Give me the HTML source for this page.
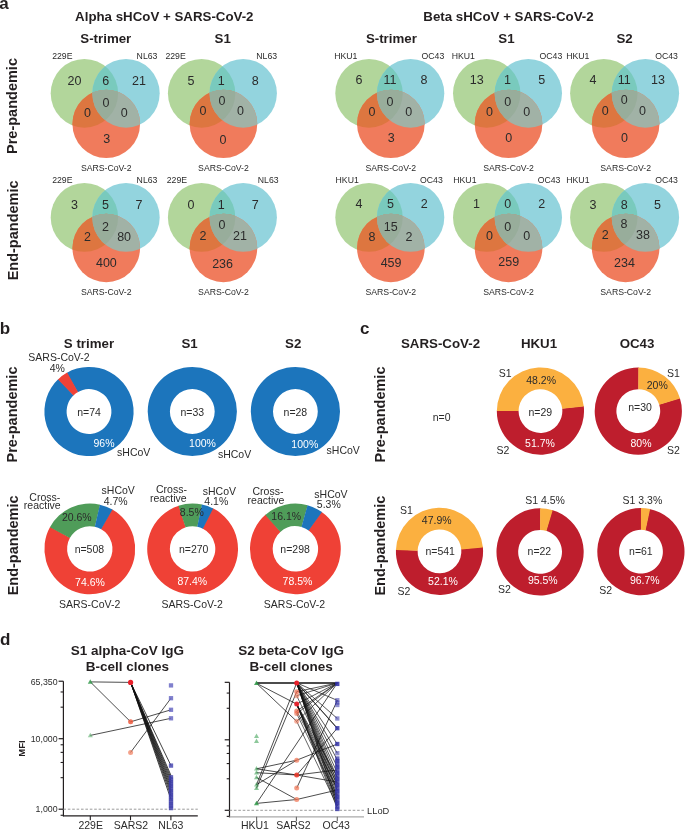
<!DOCTYPE html>
<html><head><meta charset="utf-8"><style>
html,body{margin:0;padding:0;background:#fff;overflow:hidden;}
svg{display:block;font-family:"Liberation Sans",sans-serif;will-change:transform;}
</style></head><body>
<svg width="685" height="831" viewBox="0 0 685 831">
<rect width="685" height="831" fill="#fff"/>
<clipPath id="cg0"><ellipse cx="84.40" cy="93.30" rx="33.7" ry="34.4" /></clipPath>
<clipPath id="cb0"><ellipse cx="126.00" cy="93.30" rx="33.7" ry="34.4" /></clipPath>
<ellipse cx="84.40" cy="93.30" rx="33.7" ry="34.4" fill="#b2d69b"/>
<ellipse cx="126.00" cy="93.30" rx="33.7" ry="34.4" fill="#93d4de"/>
<ellipse cx="106.25" cy="123.90" rx="33.8" ry="34.2" fill="#f07b5c"/>
<ellipse cx="126.00" cy="93.30" rx="33.7" ry="34.4" fill="#79cabd" clip-path="url(#cg0)"/>
<ellipse cx="106.25" cy="123.90" rx="33.8" ry="34.2" fill="#dd7640" clip-path="url(#cg0)"/>
<ellipse cx="106.25" cy="123.90" rx="33.8" ry="34.2" fill="#a1b2a6" clip-path="url(#cb0)"/>
<g clip-path="url(#cg0)"><ellipse cx="106.25" cy="123.90" rx="33.8" ry="34.2" fill="#98ad9b" clip-path="url(#cb0)"/></g>
<text x="74.50" y="85.40" font-size="12.5" text-anchor="middle" fill="#2b2b2b" >20</text>
<text x="105.80" y="85.40" font-size="12.5" text-anchor="middle" fill="#2b2b2b" >6</text>
<text x="139.00" y="85.40" font-size="12.5" text-anchor="middle" fill="#2b2b2b" >21</text>
<text x="105.90" y="106.80" font-size="12.5" text-anchor="middle" fill="#2b2b2b" >0</text>
<text x="87.50" y="117.00" font-size="12.5" text-anchor="middle" fill="#2b2b2b" >0</text>
<text x="124.30" y="117.00" font-size="12.5" text-anchor="middle" fill="#2b2b2b" >0</text>
<text x="106.70" y="142.70" font-size="12.5" text-anchor="middle" fill="#2b2b2b" >3</text>
<text x="62.30" y="59.30" font-size="8.7" text-anchor="middle" fill="#2b2b2b" >229E</text>
<text x="147.00" y="59.30" font-size="8.7" text-anchor="middle" fill="#2b2b2b" >NL63</text>
<text x="106.25" y="171.00" font-size="8.7" text-anchor="middle" fill="#2b2b2b" >SARS-CoV-2</text>
<clipPath id="cg1"><ellipse cx="201.60" cy="93.30" rx="33.7" ry="34.4" /></clipPath>
<clipPath id="cb1"><ellipse cx="243.20" cy="93.30" rx="33.7" ry="34.4" /></clipPath>
<ellipse cx="201.60" cy="93.30" rx="33.7" ry="34.4" fill="#b2d69b"/>
<ellipse cx="243.20" cy="93.30" rx="33.7" ry="34.4" fill="#93d4de"/>
<ellipse cx="223.45" cy="123.90" rx="33.8" ry="34.2" fill="#f07b5c"/>
<ellipse cx="243.20" cy="93.30" rx="33.7" ry="34.4" fill="#79cabd" clip-path="url(#cg1)"/>
<ellipse cx="223.45" cy="123.90" rx="33.8" ry="34.2" fill="#dd7640" clip-path="url(#cg1)"/>
<ellipse cx="223.45" cy="123.90" rx="33.8" ry="34.2" fill="#a1b2a6" clip-path="url(#cb1)"/>
<g clip-path="url(#cg1)"><ellipse cx="223.45" cy="123.90" rx="33.8" ry="34.2" fill="#98ad9b" clip-path="url(#cb1)"/></g>
<text x="190.90" y="85.40" font-size="12.5" text-anchor="middle" fill="#2b2b2b" >5</text>
<text x="221.20" y="85.40" font-size="12.5" text-anchor="middle" fill="#2b2b2b" >1</text>
<text x="255.30" y="85.40" font-size="12.5" text-anchor="middle" fill="#2b2b2b" >8</text>
<text x="222.00" y="104.70" font-size="12.5" text-anchor="middle" fill="#2b2b2b" >0</text>
<text x="203.00" y="115.20" font-size="12.5" text-anchor="middle" fill="#2b2b2b" >0</text>
<text x="240.50" y="115.20" font-size="12.5" text-anchor="middle" fill="#2b2b2b" >0</text>
<text x="222.90" y="143.60" font-size="12.5" text-anchor="middle" fill="#2b2b2b" >0</text>
<text x="175.60" y="59.30" font-size="8.7" text-anchor="middle" fill="#2b2b2b" >229E</text>
<text x="266.70" y="59.30" font-size="8.7" text-anchor="middle" fill="#2b2b2b" >NL63</text>
<text x="223.45" y="171.00" font-size="8.7" text-anchor="middle" fill="#2b2b2b" >SARS-CoV-2</text>
<clipPath id="cg2"><ellipse cx="369.00" cy="93.30" rx="33.7" ry="34.4" /></clipPath>
<clipPath id="cb2"><ellipse cx="410.60" cy="93.30" rx="33.7" ry="34.4" /></clipPath>
<ellipse cx="369.00" cy="93.30" rx="33.7" ry="34.4" fill="#b2d69b"/>
<ellipse cx="410.60" cy="93.30" rx="33.7" ry="34.4" fill="#93d4de"/>
<ellipse cx="390.85" cy="123.90" rx="33.8" ry="34.2" fill="#f07b5c"/>
<ellipse cx="410.60" cy="93.30" rx="33.7" ry="34.4" fill="#79cabd" clip-path="url(#cg2)"/>
<ellipse cx="390.85" cy="123.90" rx="33.8" ry="34.2" fill="#dd7640" clip-path="url(#cg2)"/>
<ellipse cx="390.85" cy="123.90" rx="33.8" ry="34.2" fill="#a1b2a6" clip-path="url(#cb2)"/>
<g clip-path="url(#cg2)"><ellipse cx="390.85" cy="123.90" rx="33.8" ry="34.2" fill="#98ad9b" clip-path="url(#cb2)"/></g>
<text x="358.90" y="84.00" font-size="12.5" text-anchor="middle" fill="#2b2b2b" >6</text>
<text x="390.00" y="84.00" font-size="12.5" text-anchor="middle" fill="#2b2b2b" >11</text>
<text x="424.00" y="84.00" font-size="12.5" text-anchor="middle" fill="#2b2b2b" >8</text>
<text x="390.00" y="106.30" font-size="12.5" text-anchor="middle" fill="#2b2b2b" >0</text>
<text x="372.00" y="116.40" font-size="12.5" text-anchor="middle" fill="#2b2b2b" >0</text>
<text x="408.80" y="116.40" font-size="12.5" text-anchor="middle" fill="#2b2b2b" >0</text>
<text x="391.30" y="142.20" font-size="12.5" text-anchor="middle" fill="#2b2b2b" >3</text>
<text x="345.80" y="59.30" font-size="8.7" text-anchor="middle" fill="#2b2b2b" >HKU1</text>
<text x="432.90" y="59.30" font-size="8.7" text-anchor="middle" fill="#2b2b2b" >OC43</text>
<text x="390.85" y="171.00" font-size="8.7" text-anchor="middle" fill="#2b2b2b" >SARS-CoV-2</text>
<clipPath id="cg3"><ellipse cx="486.70" cy="93.30" rx="33.7" ry="34.4" /></clipPath>
<clipPath id="cb3"><ellipse cx="528.30" cy="93.30" rx="33.7" ry="34.4" /></clipPath>
<ellipse cx="486.70" cy="93.30" rx="33.7" ry="34.4" fill="#b2d69b"/>
<ellipse cx="528.30" cy="93.30" rx="33.7" ry="34.4" fill="#93d4de"/>
<ellipse cx="508.55" cy="123.90" rx="33.8" ry="34.2" fill="#f07b5c"/>
<ellipse cx="528.30" cy="93.30" rx="33.7" ry="34.4" fill="#79cabd" clip-path="url(#cg3)"/>
<ellipse cx="508.55" cy="123.90" rx="33.8" ry="34.2" fill="#dd7640" clip-path="url(#cg3)"/>
<ellipse cx="508.55" cy="123.90" rx="33.8" ry="34.2" fill="#a1b2a6" clip-path="url(#cb3)"/>
<g clip-path="url(#cg3)"><ellipse cx="508.55" cy="123.90" rx="33.8" ry="34.2" fill="#98ad9b" clip-path="url(#cb3)"/></g>
<text x="476.80" y="84.00" font-size="12.5" text-anchor="middle" fill="#2b2b2b" >13</text>
<text x="507.40" y="84.00" font-size="12.5" text-anchor="middle" fill="#2b2b2b" >1</text>
<text x="541.80" y="84.00" font-size="12.5" text-anchor="middle" fill="#2b2b2b" >5</text>
<text x="507.80" y="106.30" font-size="12.5" text-anchor="middle" fill="#2b2b2b" >0</text>
<text x="489.50" y="116.40" font-size="12.5" text-anchor="middle" fill="#2b2b2b" >0</text>
<text x="526.70" y="116.40" font-size="12.5" text-anchor="middle" fill="#2b2b2b" >0</text>
<text x="508.80" y="141.80" font-size="12.5" text-anchor="middle" fill="#2b2b2b" >0</text>
<text x="463.30" y="59.30" font-size="8.7" text-anchor="middle" fill="#2b2b2b" >HKU1</text>
<text x="550.90" y="59.30" font-size="8.7" text-anchor="middle" fill="#2b2b2b" >OC43</text>
<text x="508.55" y="171.00" font-size="8.7" text-anchor="middle" fill="#2b2b2b" >SARS-CoV-2</text>
<clipPath id="cg4"><ellipse cx="603.80" cy="93.30" rx="33.7" ry="34.4" /></clipPath>
<clipPath id="cb4"><ellipse cx="645.40" cy="93.30" rx="33.7" ry="34.4" /></clipPath>
<ellipse cx="603.80" cy="93.30" rx="33.7" ry="34.4" fill="#b2d69b"/>
<ellipse cx="645.40" cy="93.30" rx="33.7" ry="34.4" fill="#93d4de"/>
<ellipse cx="625.65" cy="123.90" rx="33.8" ry="34.2" fill="#f07b5c"/>
<ellipse cx="645.40" cy="93.30" rx="33.7" ry="34.4" fill="#79cabd" clip-path="url(#cg4)"/>
<ellipse cx="625.65" cy="123.90" rx="33.8" ry="34.2" fill="#dd7640" clip-path="url(#cg4)"/>
<ellipse cx="625.65" cy="123.90" rx="33.8" ry="34.2" fill="#a1b2a6" clip-path="url(#cb4)"/>
<g clip-path="url(#cg4)"><ellipse cx="625.65" cy="123.90" rx="33.8" ry="34.2" fill="#98ad9b" clip-path="url(#cb4)"/></g>
<text x="592.90" y="84.00" font-size="12.5" text-anchor="middle" fill="#2b2b2b" >4</text>
<text x="624.30" y="84.00" font-size="12.5" text-anchor="middle" fill="#2b2b2b" >11</text>
<text x="658.00" y="84.00" font-size="12.5" text-anchor="middle" fill="#2b2b2b" >13</text>
<text x="624.20" y="104.20" font-size="12.5" text-anchor="middle" fill="#2b2b2b" >0</text>
<text x="605.20" y="114.70" font-size="12.5" text-anchor="middle" fill="#2b2b2b" >0</text>
<text x="642.60" y="114.70" font-size="12.5" text-anchor="middle" fill="#2b2b2b" >0</text>
<text x="624.60" y="142.20" font-size="12.5" text-anchor="middle" fill="#2b2b2b" >0</text>
<text x="577.80" y="59.30" font-size="8.7" text-anchor="middle" fill="#2b2b2b" >HKU1</text>
<text x="666.50" y="59.30" font-size="8.7" text-anchor="middle" fill="#2b2b2b" >OC43</text>
<text x="625.65" y="171.00" font-size="8.7" text-anchor="middle" fill="#2b2b2b" >SARS-CoV-2</text>
<clipPath id="cg5"><ellipse cx="84.40" cy="217.40" rx="33.7" ry="34.4" /></clipPath>
<clipPath id="cb5"><ellipse cx="126.00" cy="217.40" rx="33.7" ry="34.4" /></clipPath>
<ellipse cx="84.40" cy="217.40" rx="33.7" ry="34.4" fill="#b2d69b"/>
<ellipse cx="126.00" cy="217.40" rx="33.7" ry="34.4" fill="#93d4de"/>
<ellipse cx="106.25" cy="248.00" rx="33.8" ry="34.2" fill="#f07b5c"/>
<ellipse cx="126.00" cy="217.40" rx="33.7" ry="34.4" fill="#79cabd" clip-path="url(#cg5)"/>
<ellipse cx="106.25" cy="248.00" rx="33.8" ry="34.2" fill="#dd7640" clip-path="url(#cg5)"/>
<ellipse cx="106.25" cy="248.00" rx="33.8" ry="34.2" fill="#a1b2a6" clip-path="url(#cb5)"/>
<g clip-path="url(#cg5)"><ellipse cx="106.25" cy="248.00" rx="33.8" ry="34.2" fill="#98ad9b" clip-path="url(#cb5)"/></g>
<text x="74.50" y="208.80" font-size="12.5" text-anchor="middle" fill="#2b2b2b" >3</text>
<text x="105.50" y="208.80" font-size="12.5" text-anchor="middle" fill="#2b2b2b" >5</text>
<text x="139.00" y="208.80" font-size="12.5" text-anchor="middle" fill="#2b2b2b" >7</text>
<text x="105.50" y="231.20" font-size="12.5" text-anchor="middle" fill="#2b2b2b" >2</text>
<text x="87.40" y="241.20" font-size="12.5" text-anchor="middle" fill="#2b2b2b" >2</text>
<text x="124.10" y="241.20" font-size="12.5" text-anchor="middle" fill="#2b2b2b" >80</text>
<text x="106.40" y="267.20" font-size="12.5" text-anchor="middle" fill="#2b2b2b" >400</text>
<text x="62.30" y="183.40" font-size="8.7" text-anchor="middle" fill="#2b2b2b" >229E</text>
<text x="147.00" y="183.40" font-size="8.7" text-anchor="middle" fill="#2b2b2b" >NL63</text>
<text x="106.25" y="295.10" font-size="8.7" text-anchor="middle" fill="#2b2b2b" >SARS-CoV-2</text>
<clipPath id="cg6"><ellipse cx="201.60" cy="217.40" rx="33.7" ry="34.4" /></clipPath>
<clipPath id="cb6"><ellipse cx="243.20" cy="217.40" rx="33.7" ry="34.4" /></clipPath>
<ellipse cx="201.60" cy="217.40" rx="33.7" ry="34.4" fill="#b2d69b"/>
<ellipse cx="243.20" cy="217.40" rx="33.7" ry="34.4" fill="#93d4de"/>
<ellipse cx="223.45" cy="248.00" rx="33.8" ry="34.2" fill="#f07b5c"/>
<ellipse cx="243.20" cy="217.40" rx="33.7" ry="34.4" fill="#79cabd" clip-path="url(#cg6)"/>
<ellipse cx="223.45" cy="248.00" rx="33.8" ry="34.2" fill="#dd7640" clip-path="url(#cg6)"/>
<ellipse cx="223.45" cy="248.00" rx="33.8" ry="34.2" fill="#a1b2a6" clip-path="url(#cb6)"/>
<g clip-path="url(#cg6)"><ellipse cx="223.45" cy="248.00" rx="33.8" ry="34.2" fill="#98ad9b" clip-path="url(#cb6)"/></g>
<text x="190.90" y="209.40" font-size="12.5" text-anchor="middle" fill="#2b2b2b" >0</text>
<text x="221.30" y="209.40" font-size="12.5" text-anchor="middle" fill="#2b2b2b" >1</text>
<text x="255.30" y="209.40" font-size="12.5" text-anchor="middle" fill="#2b2b2b" >7</text>
<text x="222.00" y="228.70" font-size="12.5" text-anchor="middle" fill="#2b2b2b" >0</text>
<text x="202.90" y="239.60" font-size="12.5" text-anchor="middle" fill="#2b2b2b" >2</text>
<text x="239.90" y="239.60" font-size="12.5" text-anchor="middle" fill="#2b2b2b" >21</text>
<text x="222.60" y="267.60" font-size="12.5" text-anchor="middle" fill="#2b2b2b" >236</text>
<text x="176.90" y="183.40" font-size="8.7" text-anchor="middle" fill="#2b2b2b" >229E</text>
<text x="268.20" y="183.40" font-size="8.7" text-anchor="middle" fill="#2b2b2b" >NL63</text>
<text x="223.45" y="295.10" font-size="8.7" text-anchor="middle" fill="#2b2b2b" >SARS-CoV-2</text>
<clipPath id="cg7"><ellipse cx="369.00" cy="217.40" rx="33.7" ry="34.4" /></clipPath>
<clipPath id="cb7"><ellipse cx="410.60" cy="217.40" rx="33.7" ry="34.4" /></clipPath>
<ellipse cx="369.00" cy="217.40" rx="33.7" ry="34.4" fill="#b2d69b"/>
<ellipse cx="410.60" cy="217.40" rx="33.7" ry="34.4" fill="#93d4de"/>
<ellipse cx="390.85" cy="248.00" rx="33.8" ry="34.2" fill="#f07b5c"/>
<ellipse cx="410.60" cy="217.40" rx="33.7" ry="34.4" fill="#79cabd" clip-path="url(#cg7)"/>
<ellipse cx="390.85" cy="248.00" rx="33.8" ry="34.2" fill="#dd7640" clip-path="url(#cg7)"/>
<ellipse cx="390.85" cy="248.00" rx="33.8" ry="34.2" fill="#a1b2a6" clip-path="url(#cb7)"/>
<g clip-path="url(#cg7)"><ellipse cx="390.85" cy="248.00" rx="33.8" ry="34.2" fill="#98ad9b" clip-path="url(#cb7)"/></g>
<text x="358.90" y="208.00" font-size="12.5" text-anchor="middle" fill="#2b2b2b" >4</text>
<text x="390.40" y="208.00" font-size="12.5" text-anchor="middle" fill="#2b2b2b" >5</text>
<text x="424.20" y="208.00" font-size="12.5" text-anchor="middle" fill="#2b2b2b" >2</text>
<text x="390.80" y="230.50" font-size="12.5" text-anchor="middle" fill="#2b2b2b" >15</text>
<text x="372.00" y="241.00" font-size="12.5" text-anchor="middle" fill="#2b2b2b" >8</text>
<text x="409.00" y="241.00" font-size="12.5" text-anchor="middle" fill="#2b2b2b" >2</text>
<text x="391.10" y="266.70" font-size="12.5" text-anchor="middle" fill="#2b2b2b" >459</text>
<text x="347.20" y="183.40" font-size="8.7" text-anchor="middle" fill="#2b2b2b" >HKU1</text>
<text x="431.40" y="183.40" font-size="8.7" text-anchor="middle" fill="#2b2b2b" >OC43</text>
<text x="390.85" y="295.10" font-size="8.7" text-anchor="middle" fill="#2b2b2b" >SARS-CoV-2</text>
<clipPath id="cg8"><ellipse cx="486.70" cy="217.40" rx="33.7" ry="34.4" /></clipPath>
<clipPath id="cb8"><ellipse cx="528.30" cy="217.40" rx="33.7" ry="34.4" /></clipPath>
<ellipse cx="486.70" cy="217.40" rx="33.7" ry="34.4" fill="#b2d69b"/>
<ellipse cx="528.30" cy="217.40" rx="33.7" ry="34.4" fill="#93d4de"/>
<ellipse cx="508.55" cy="248.00" rx="33.8" ry="34.2" fill="#f07b5c"/>
<ellipse cx="528.30" cy="217.40" rx="33.7" ry="34.4" fill="#79cabd" clip-path="url(#cg8)"/>
<ellipse cx="508.55" cy="248.00" rx="33.8" ry="34.2" fill="#dd7640" clip-path="url(#cg8)"/>
<ellipse cx="508.55" cy="248.00" rx="33.8" ry="34.2" fill="#a1b2a6" clip-path="url(#cb8)"/>
<g clip-path="url(#cg8)"><ellipse cx="508.55" cy="248.00" rx="33.8" ry="34.2" fill="#98ad9b" clip-path="url(#cb8)"/></g>
<text x="476.40" y="208.00" font-size="12.5" text-anchor="middle" fill="#2b2b2b" >1</text>
<text x="507.80" y="208.00" font-size="12.5" text-anchor="middle" fill="#2b2b2b" >0</text>
<text x="541.80" y="208.00" font-size="12.5" text-anchor="middle" fill="#2b2b2b" >2</text>
<text x="507.80" y="230.50" font-size="12.5" text-anchor="middle" fill="#2b2b2b" >0</text>
<text x="489.50" y="240.40" font-size="12.5" text-anchor="middle" fill="#2b2b2b" >0</text>
<text x="526.70" y="240.40" font-size="12.5" text-anchor="middle" fill="#2b2b2b" >0</text>
<text x="508.70" y="266.20" font-size="12.5" text-anchor="middle" fill="#2b2b2b" >259</text>
<text x="464.90" y="183.40" font-size="8.7" text-anchor="middle" fill="#2b2b2b" >HKU1</text>
<text x="549.00" y="183.40" font-size="8.7" text-anchor="middle" fill="#2b2b2b" >OC43</text>
<text x="508.55" y="295.10" font-size="8.7" text-anchor="middle" fill="#2b2b2b" >SARS-CoV-2</text>
<clipPath id="cg9"><ellipse cx="603.80" cy="217.40" rx="33.7" ry="34.4" /></clipPath>
<clipPath id="cb9"><ellipse cx="645.40" cy="217.40" rx="33.7" ry="34.4" /></clipPath>
<ellipse cx="603.80" cy="217.40" rx="33.7" ry="34.4" fill="#b2d69b"/>
<ellipse cx="645.40" cy="217.40" rx="33.7" ry="34.4" fill="#93d4de"/>
<ellipse cx="625.65" cy="248.00" rx="33.8" ry="34.2" fill="#f07b5c"/>
<ellipse cx="645.40" cy="217.40" rx="33.7" ry="34.4" fill="#79cabd" clip-path="url(#cg9)"/>
<ellipse cx="625.65" cy="248.00" rx="33.8" ry="34.2" fill="#dd7640" clip-path="url(#cg9)"/>
<ellipse cx="625.65" cy="248.00" rx="33.8" ry="34.2" fill="#a1b2a6" clip-path="url(#cb9)"/>
<g clip-path="url(#cg9)"><ellipse cx="625.65" cy="248.00" rx="33.8" ry="34.2" fill="#98ad9b" clip-path="url(#cb9)"/></g>
<text x="593.10" y="208.70" font-size="12.5" text-anchor="middle" fill="#2b2b2b" >3</text>
<text x="624.20" y="208.70" font-size="12.5" text-anchor="middle" fill="#2b2b2b" >8</text>
<text x="657.60" y="208.70" font-size="12.5" text-anchor="middle" fill="#2b2b2b" >5</text>
<text x="624.00" y="228.40" font-size="12.5" text-anchor="middle" fill="#2b2b2b" >8</text>
<text x="605.20" y="239.40" font-size="12.5" text-anchor="middle" fill="#2b2b2b" >2</text>
<text x="643.00" y="239.40" font-size="12.5" text-anchor="middle" fill="#2b2b2b" >38</text>
<text x="624.50" y="266.70" font-size="12.5" text-anchor="middle" fill="#2b2b2b" >234</text>
<text x="577.90" y="183.40" font-size="8.7" text-anchor="middle" fill="#2b2b2b" >HKU1</text>
<text x="666.50" y="183.40" font-size="8.7" text-anchor="middle" fill="#2b2b2b" >OC43</text>
<text x="625.65" y="295.10" font-size="8.7" text-anchor="middle" fill="#2b2b2b" >SARS-CoV-2</text>
<text x="-0.70" y="8.70" font-size="17" font-weight="bold" text-anchor="start" fill="#231f20" >a</text>
<text x="164.30" y="20.80" font-size="13.3" font-weight="bold" text-anchor="middle" fill="#231f20" >Alpha sHCoV + SARS-CoV-2</text>
<text x="508.50" y="20.80" font-size="13.3" font-weight="bold" text-anchor="middle" fill="#231f20" >Beta sHCoV + SARS-CoV-2</text>
<text x="105.80" y="43.30" font-size="13.3" font-weight="bold" text-anchor="middle" fill="#231f20" >S-trimer</text>
<text x="222.70" y="43.30" font-size="13.3" font-weight="bold" text-anchor="middle" fill="#231f20" >S1</text>
<text x="391.40" y="43.30" font-size="13.3" font-weight="bold" text-anchor="middle" fill="#231f20" >S-trimer</text>
<text x="506.50" y="43.30" font-size="13.3" font-weight="bold" text-anchor="middle" fill="#231f20" >S1</text>
<text x="624.60" y="43.30" font-size="13.3" font-weight="bold" text-anchor="middle" fill="#231f20" >S2</text>
<text transform="translate(17.30,106.00) rotate(-90)" font-size="14.5" font-weight="bold" text-anchor="middle" fill="#231f20">Pre-pandemic</text>
<text transform="translate(17.50,230.40) rotate(-90)" font-size="14.5" font-weight="bold" text-anchor="middle" fill="#231f20">End-pandemic</text>
<text x="-0.20" y="333.80" font-size="17" font-weight="bold" text-anchor="start" fill="#231f20" >b</text>
<text x="89.00" y="347.80" font-size="13.3" font-weight="bold" text-anchor="middle" fill="#231f20" >S trimer</text>
<text x="189.60" y="347.80" font-size="13.3" font-weight="bold" text-anchor="middle" fill="#231f20" >S1</text>
<text x="293.20" y="347.80" font-size="13.3" font-weight="bold" text-anchor="middle" fill="#231f20" >S2</text>
<text transform="translate(17.30,414.50) rotate(-90)" font-size="14.5" font-weight="bold" text-anchor="middle" fill="#231f20">Pre-pandemic</text>
<text transform="translate(17.50,545.40) rotate(-90)" font-size="14.5" font-weight="bold" text-anchor="middle" fill="#231f20">End-pandemic</text>
<path d="M66.57,372.95A44.6,44.6 0 1 1 58.36,379.09L73.61,395.22A22.4,22.4 0 1 0 77.73,392.14Z" fill="#1c75bc"/>
<path d="M58.02,379.42A44.6,44.6 0 0 1 67.17,372.61L78.04,391.97A22.4,22.4 0 0 0 73.44,395.39Z" fill="#ef4136"/>
<path d="M192.3,366.9A44.6,44.6 0 1 1 192.3,456.1A44.6,44.6 0 1 1 192.3,366.9ZM192.3,389.1A22.4,22.4 0 1 0 192.3,433.9A22.4,22.4 0 1 0 192.3,389.1Z" fill="#1c75bc" fill-rule="evenodd"/>
<path d="M295.4,366.9A44.6,44.6 0 1 1 295.4,456.1A44.6,44.6 0 1 1 295.4,366.9ZM295.4,389.1A22.4,22.4 0 1 0 295.4,433.9A22.4,22.4 0 1 0 295.4,389.1Z" fill="#1c75bc" fill-rule="evenodd"/>
<text x="59.00" y="360.70" font-size="10.5" text-anchor="middle" fill="#2b2b2b" >SARS-CoV-2</text>
<text x="57.30" y="371.80" font-size="10.5" text-anchor="middle" fill="#2b2b2b" >4%</text>
<text x="89.00" y="415.60" font-size="10.5" text-anchor="middle" fill="#2b2b2b" >n=74</text>
<text x="104.05" y="446.60" font-size="10.5" text-anchor="middle" fill="#ffffff" >96%</text>
<text x="133.70" y="456.00" font-size="10.5" text-anchor="middle" fill="#2b2b2b" >sHCoV</text>
<text x="192.30" y="415.60" font-size="10.5" text-anchor="middle" fill="#2b2b2b" >n=33</text>
<text x="202.50" y="447.00" font-size="10.5" text-anchor="middle" fill="#ffffff" >100%</text>
<text x="234.60" y="457.70" font-size="10.5" text-anchor="middle" fill="#2b2b2b" >sHCoV</text>
<text x="295.40" y="415.60" font-size="10.5" text-anchor="middle" fill="#2b2b2b" >n=28</text>
<text x="304.80" y="448.30" font-size="10.5" text-anchor="middle" fill="#ffffff" >100%</text>
<text x="343.20" y="453.60" font-size="10.5" text-anchor="middle" fill="#2b2b2b" >sHCoV</text>
<path d="M111.88,509.23A45.4,45.4 0 1 1 50.17,526.75L69.98,537.83A22.7,22.7 0 1 0 100.84,529.07Z" fill="#ef4136"/>
<path d="M49.94,527.17A45.4,45.4 0 0 1 100.09,504.68L94.94,526.79A22.7,22.7 0 0 0 69.87,538.03Z" fill="#4f9c59"/>
<path d="M99.86,504.63A45.4,45.4 0 0 1 112.50,509.58L101.15,529.24A22.7,22.7 0 0 0 94.83,526.76Z" fill="#1c75bc"/>
<path d="M212.50,508.09A45.4,45.4 0 1 1 178.87,505.63L185.74,527.26A22.7,22.7 0 1 0 202.55,528.50Z" fill="#ef4136"/>
<path d="M178.42,505.77A45.4,45.4 0 0 1 202.12,504.51L197.36,526.70A22.7,22.7 0 0 0 185.51,527.34Z" fill="#4f9c59"/>
<path d="M201.88,504.46A45.4,45.4 0 0 1 213.14,508.41L202.87,528.66A22.7,22.7 0 0 0 197.24,526.68Z" fill="#1c75bc"/>
<path d="M321.38,511.67A45.4,45.4 0 1 1 265.67,514.58L280.54,531.74A22.7,22.7 0 1 0 308.39,530.28Z" fill="#ef4136"/>
<path d="M265.32,514.90A45.4,45.4 0 0 1 307.76,505.22L301.58,527.06A22.7,22.7 0 0 0 280.36,531.90Z" fill="#4f9c59"/>
<path d="M307.53,505.15A45.4,45.4 0 0 1 321.96,512.08L308.68,530.49A22.7,22.7 0 0 0 301.47,527.03Z" fill="#1c75bc"/>
<text x="44.80" y="500.70" font-size="10.5" text-anchor="middle" fill="#2b2b2b" >Cross-</text>
<text x="42.20" y="508.60" font-size="10.5" text-anchor="middle" fill="#2b2b2b" >reactive</text>
<text x="118.20" y="494.20" font-size="10.5" text-anchor="middle" fill="#2b2b2b" >sHCoV</text>
<text x="115.60" y="505.20" font-size="10.5" text-anchor="middle" fill="#2b2b2b" >4.7%</text>
<text x="76.80" y="521.00" font-size="10.5" text-anchor="middle" fill="#2b2b2b" >20.6%</text>
<text x="89.40" y="553.30" font-size="10.5" text-anchor="middle" fill="#2b2b2b" >n=508</text>
<text x="90.00" y="585.80" font-size="10.5" text-anchor="middle" fill="#ffffff" >74.6%</text>
<text x="89.60" y="608.20" font-size="10.5" text-anchor="middle" fill="#2b2b2b" >SARS-CoV-2</text>
<text x="171.50" y="492.80" font-size="10.5" text-anchor="middle" fill="#2b2b2b" >Cross-</text>
<text x="168.30" y="501.90" font-size="10.5" text-anchor="middle" fill="#2b2b2b" >reactive</text>
<text x="219.40" y="495.20" font-size="10.5" text-anchor="middle" fill="#2b2b2b" >sHCoV</text>
<text x="216.30" y="505.30" font-size="10.5" text-anchor="middle" fill="#2b2b2b" >4.1%</text>
<text x="191.80" y="516.00" font-size="10.5" text-anchor="middle" fill="#2b2b2b" >8.5%</text>
<text x="193.70" y="553.30" font-size="10.5" text-anchor="middle" fill="#2b2b2b" >n=270</text>
<text x="192.30" y="585.20" font-size="10.5" text-anchor="middle" fill="#ffffff" >87.4%</text>
<text x="192.10" y="608.40" font-size="10.5" text-anchor="middle" fill="#2b2b2b" >SARS-CoV-2</text>
<text x="268.00" y="495.20" font-size="10.5" text-anchor="middle" fill="#2b2b2b" >Cross-</text>
<text x="266.00" y="503.60" font-size="10.5" text-anchor="middle" fill="#2b2b2b" >reactive</text>
<text x="331.00" y="497.50" font-size="10.5" text-anchor="middle" fill="#2b2b2b" >sHCoV</text>
<text x="328.80" y="508.00" font-size="10.5" text-anchor="middle" fill="#2b2b2b" >5.3%</text>
<text x="286.20" y="520.40" font-size="10.5" text-anchor="middle" fill="#2b2b2b" >16.1%</text>
<text x="295.10" y="553.30" font-size="10.5" text-anchor="middle" fill="#2b2b2b" >n=298</text>
<text x="297.50" y="585.20" font-size="10.5" text-anchor="middle" fill="#ffffff" >78.5%</text>
<text x="294.50" y="608.40" font-size="10.5" text-anchor="middle" fill="#2b2b2b" >SARS-CoV-2</text>
<text x="360.00" y="333.80" font-size="17" font-weight="bold" text-anchor="start" fill="#231f20" >c</text>
<text x="440.50" y="347.50" font-size="13.3" font-weight="bold" text-anchor="middle" fill="#231f20" >SARS-CoV-2</text>
<text x="539.00" y="347.50" font-size="13.3" font-weight="bold" text-anchor="middle" fill="#231f20" >HKU1</text>
<text x="637.00" y="347.50" font-size="13.3" font-weight="bold" text-anchor="middle" fill="#231f20" >OC43</text>
<text transform="translate(385.20,414.50) rotate(-90)" font-size="14.5" font-weight="bold" text-anchor="middle" fill="#231f20">Pre-pandemic</text>
<text transform="translate(385.20,545.60) rotate(-90)" font-size="14.5" font-weight="bold" text-anchor="middle" fill="#231f20">End-pandemic</text>
<text x="441.70" y="421.00" font-size="10.5" text-anchor="middle" fill="#2b2b2b" >n=0</text>
<path d="M583.74,405.94A43.6,43.6 0 1 1 496.85,410.64L518.55,410.87A21.9,21.9 0 1 0 562.20,408.51Z" fill="#be1e2d"/>
<path d="M496.85,411.10A43.6,43.6 0 0 1 583.82,406.62L562.23,408.85A21.9,21.9 0 0 0 518.55,411.10Z" fill="#fbb040"/>
<path d="M679.86,397.92A43.6,43.6 0 1 1 638.76,367.50L638.53,389.20A21.9,21.9 0 1 0 659.17,404.48Z" fill="#be1e2d"/>
<path d="M638.30,367.50A43.6,43.6 0 0 1 680.06,398.57L659.28,404.81A21.9,21.9 0 0 0 638.30,389.20Z" fill="#fbb040"/>
<path d="M482.86,546.84A43.6,43.6 0 1 1 395.94,549.42L417.62,550.41A21.9,21.9 0 1 0 461.28,549.11Z" fill="#be1e2d"/>
<path d="M395.93,549.88A43.6,43.6 0 0 1 482.93,547.52L461.31,549.45A21.9,21.9 0 0 0 417.61,550.64Z" fill="#fbb040"/>
<path d="M552.04,509.97A43.6,43.6 0 1 1 540.56,508.30L540.33,530.00A21.9,21.9 0 1 0 546.10,530.84Z" fill="#be1e2d"/>
<path d="M540.10,508.30A43.6,43.6 0 0 1 552.70,510.16L546.43,530.93A21.9,21.9 0 0 0 540.10,530.00Z" fill="#fbb040"/>
<path d="M649.49,508.95A43.6,43.6 0 1 1 641.41,508.10L641.18,529.80A21.9,21.9 0 1 0 645.24,530.22Z" fill="#be1e2d"/>
<path d="M640.95,508.10A43.6,43.6 0 0 1 650.16,509.08L645.58,530.29A21.9,21.9 0 0 0 640.95,529.80Z" fill="#fbb040"/>
<text x="505.10" y="376.80" font-size="10.5" text-anchor="middle" fill="#2b2b2b" >S1</text>
<text x="503.00" y="454.40" font-size="10.5" text-anchor="middle" fill="#2b2b2b" >S2</text>
<text x="541.10" y="384.40" font-size="10.5" text-anchor="middle" fill="#2b2b2b" >48.2%</text>
<text x="540.30" y="415.60" font-size="10.5" text-anchor="middle" fill="#2b2b2b" >n=29</text>
<text x="540.00" y="446.70" font-size="10.5" text-anchor="middle" fill="#ffffff" >51.7%</text>
<text x="673.50" y="376.80" font-size="10.5" text-anchor="middle" fill="#2b2b2b" >S1</text>
<text x="673.30" y="454.40" font-size="10.5" text-anchor="middle" fill="#2b2b2b" >S2</text>
<text x="657.30" y="388.60" font-size="10.5" text-anchor="middle" fill="#2b2b2b" >20%</text>
<text x="640.00" y="411.10" font-size="10.5" text-anchor="middle" fill="#2b2b2b" >n=30</text>
<text x="641.00" y="446.60" font-size="10.5" text-anchor="middle" fill="#ffffff" >80%</text>
<text x="406.30" y="513.50" font-size="10.5" text-anchor="middle" fill="#2b2b2b" >S1</text>
<text x="404.00" y="595.10" font-size="10.5" text-anchor="middle" fill="#2b2b2b" >S2</text>
<text x="436.70" y="523.50" font-size="10.5" text-anchor="middle" fill="#2b2b2b" >47.9%</text>
<text x="440.20" y="555.40" font-size="10.5" text-anchor="middle" fill="#2b2b2b" >n=541</text>
<text x="443.00" y="584.50" font-size="10.5" text-anchor="middle" fill="#ffffff" >52.1%</text>
<text x="545.10" y="504.40" font-size="10.5" text-anchor="middle" fill="#2b2b2b" >S1 4.5%</text>
<text x="539.40" y="555.30" font-size="10.5" text-anchor="middle" fill="#2b2b2b" >n=22</text>
<text x="542.80" y="584.30" font-size="10.5" text-anchor="middle" fill="#ffffff" >95.5%</text>
<text x="504.50" y="593.30" font-size="10.5" text-anchor="middle" fill="#2b2b2b" >S2</text>
<text x="642.40" y="503.50" font-size="10.5" text-anchor="middle" fill="#2b2b2b" >S1 3.3%</text>
<text x="640.90" y="555.30" font-size="10.5" text-anchor="middle" fill="#2b2b2b" >n=61</text>
<text x="644.80" y="584.30" font-size="10.5" text-anchor="middle" fill="#ffffff" >96.7%</text>
<text x="605.70" y="594.20" font-size="10.5" text-anchor="middle" fill="#2b2b2b" >S2</text>
<text x="0.00" y="644.80" font-size="17" font-weight="bold" text-anchor="start" fill="#231f20" >d</text>
<text x="127.40" y="655.00" font-size="13.5" font-weight="bold" text-anchor="middle" fill="#231f20" >S1 alpha-CoV IgG</text>
<text x="127.30" y="670.80" font-size="13.5" font-weight="bold" text-anchor="middle" fill="#231f20" >B-cell clones</text>
<text x="291.20" y="655.00" font-size="13.5" font-weight="bold" text-anchor="middle" fill="#231f20" >S2 beta-CoV IgG</text>
<text x="291.10" y="670.80" font-size="13.5" font-weight="bold" text-anchor="middle" fill="#231f20" >B-cell clones</text>
<line x1="63.4" y1="681.2251857698824" x2="63.4" y2="816.4" stroke="#231f20" stroke-width="1.2"/>
<line x1="58.6" y1="681.2251857698824" x2="63.4" y2="681.2251857698824" stroke="#231f20" stroke-width="1.2"/>
<line x1="58.6" y1="738.7" x2="63.4" y2="738.7" stroke="#231f20" stroke-width="1.2"/>
<line x1="58.6" y1="809.2" x2="63.4" y2="809.2" stroke="#231f20" stroke-width="1.2"/>
<line x1="60.6" y1="707.1753587903736" x2="63.4" y2="707.1753587903736" stroke="#231f20" stroke-width="1.1"/>
<line x1="60.6" y1="691.975572866449" x2="63.4" y2="691.975572866449" stroke="#231f20" stroke-width="1.1"/>
<line x1="60.6" y1="777.6753587903736" x2="63.4" y2="777.6753587903736" stroke="#231f20" stroke-width="1.1"/>
<line x1="60.6" y1="762.475572866449" x2="63.4" y2="762.475572866449" stroke="#231f20" stroke-width="1.1"/>
<line x1="60.6" y1="752.3643118341361" x2="63.4" y2="752.3643118341361" stroke="#231f20" stroke-width="1.1"/>
<line x1="60.6" y1="744.776123406948" x2="63.4" y2="744.776123406948" stroke="#231f20" stroke-width="1.1"/>
<line x1="60.6" y1="815.276123406948" x2="63.4" y2="815.276123406948" stroke="#231f20" stroke-width="1.1"/>
<line x1="63.4" y1="809.2" x2="197.8" y2="809.2" stroke="#9a9a9a" stroke-width="1" stroke-dasharray="2.6 1.8"/>
<line x1="63.4" y1="815.8" x2="197.8" y2="815.8" stroke="#231f20" stroke-width="1.3"/>
<line x1="90.3" y1="815.8" x2="90.3" y2="820.3" stroke="#231f20" stroke-width="1.1"/>
<text x="90.65" y="829.40" font-size="10.5" text-anchor="middle" fill="#2b2b2b" >229E</text>
<line x1="130.5" y1="815.8" x2="130.5" y2="820.3" stroke="#231f20" stroke-width="1.1"/>
<text x="130.90" y="829.40" font-size="10.5" text-anchor="middle" fill="#2b2b2b" >SARS2</text>
<line x1="170.9" y1="815.8" x2="170.9" y2="820.3" stroke="#231f20" stroke-width="1.1"/>
<text x="170.90" y="829.40" font-size="10.5" text-anchor="middle" fill="#2b2b2b" >NL63</text>
<text x="57.60" y="684.60" font-size="8.8" text-anchor="end" fill="#2b2b2b" >65,350</text>
<text x="57.60" y="741.80" font-size="8.8" text-anchor="end" fill="#2b2b2b" >10,000</text>
<text x="57.60" y="812.30" font-size="8.8" text-anchor="end" fill="#2b2b2b" >1,000</text>
<text transform="translate(25.2,748.5) rotate(-90)" font-size="9.6" font-weight="bold" text-anchor="middle" fill="#231f20">MFI</text>
<line x1="229.5" y1="682.3251857698823" x2="229.5" y2="817.4" stroke="#231f20" stroke-width="1.2"/>
<line x1="224.7" y1="682.3251857698823" x2="229.5" y2="682.3251857698823" stroke="#231f20" stroke-width="1.2"/>
<line x1="224.7" y1="739.8" x2="229.5" y2="739.8" stroke="#231f20" stroke-width="1.2"/>
<line x1="224.7" y1="810.3" x2="229.5" y2="810.3" stroke="#231f20" stroke-width="1.2"/>
<line x1="226.7" y1="708.2753587903735" x2="229.5" y2="708.2753587903735" stroke="#231f20" stroke-width="1.1"/>
<line x1="226.7" y1="693.075572866449" x2="229.5" y2="693.075572866449" stroke="#231f20" stroke-width="1.1"/>
<line x1="226.7" y1="778.7753587903735" x2="229.5" y2="778.7753587903735" stroke="#231f20" stroke-width="1.1"/>
<line x1="226.7" y1="763.575572866449" x2="229.5" y2="763.575572866449" stroke="#231f20" stroke-width="1.1"/>
<line x1="226.7" y1="753.464311834136" x2="229.5" y2="753.464311834136" stroke="#231f20" stroke-width="1.1"/>
<line x1="226.7" y1="745.876123406948" x2="229.5" y2="745.876123406948" stroke="#231f20" stroke-width="1.1"/>
<line x1="226.7" y1="816.376123406948" x2="229.5" y2="816.376123406948" stroke="#231f20" stroke-width="1.1"/>
<line x1="229.5" y1="810.3" x2="364" y2="810.3" stroke="#9a9a9a" stroke-width="1" stroke-dasharray="2.6 1.8"/>
<line x1="229.5" y1="816.8" x2="364" y2="816.8" stroke="#aaaaaa" stroke-width="1.3"/>
<line x1="256.6" y1="816.8" x2="256.6" y2="821.3" stroke="#666" stroke-width="1.1"/>
<text x="254.90" y="829.40" font-size="10.5" text-anchor="middle" fill="#2b2b2b" >HKU1</text>
<line x1="296.4" y1="816.8" x2="296.4" y2="821.3" stroke="#666" stroke-width="1.1"/>
<text x="293.40" y="829.40" font-size="10.5" text-anchor="middle" fill="#2b2b2b" >SARS2</text>
<line x1="337.3" y1="816.8" x2="337.3" y2="821.3" stroke="#666" stroke-width="1.1"/>
<text x="336.20" y="829.40" font-size="10.5" text-anchor="middle" fill="#2b2b2b" >OC43</text>
<text x="378.20" y="813.90" font-size="9.3" text-anchor="middle" fill="#2b2b2b" >LLoD</text>
<line x1="90.30" y1="681.90" x2="130.60" y2="682.40" stroke="#111111" stroke-width="0.75"/>
<line x1="90.30" y1="681.90" x2="130.60" y2="721.80" stroke="#111111" stroke-width="0.75"/>
<line x1="130.60" y1="721.80" x2="171.00" y2="709.80" stroke="#111111" stroke-width="0.75"/>
<line x1="90.30" y1="735.40" x2="171.00" y2="718.30" stroke="#111111" stroke-width="0.75"/>
<line x1="130.60" y1="752.40" x2="171.00" y2="698.20" stroke="#111111" stroke-width="0.75"/>
<line x1="130.60" y1="682.40" x2="171.00" y2="765.60" stroke="#111111" stroke-width="0.8"/>
<line x1="130.60" y1="682.40" x2="171.00" y2="775.50" stroke="#111111" stroke-width="0.8"/>
<line x1="130.60" y1="682.40" x2="171.00" y2="778.00" stroke="#111111" stroke-width="0.8"/>
<line x1="130.60" y1="682.40" x2="171.00" y2="780.50" stroke="#111111" stroke-width="0.8"/>
<line x1="130.60" y1="682.40" x2="171.00" y2="783.00" stroke="#111111" stroke-width="0.8"/>
<line x1="130.60" y1="682.40" x2="171.00" y2="785.50" stroke="#111111" stroke-width="0.8"/>
<line x1="130.60" y1="682.40" x2="171.00" y2="788.00" stroke="#111111" stroke-width="0.8"/>
<line x1="130.60" y1="682.40" x2="171.00" y2="790.50" stroke="#111111" stroke-width="0.8"/>
<line x1="130.60" y1="682.40" x2="171.00" y2="793.00" stroke="#111111" stroke-width="0.8"/>
<line x1="130.60" y1="682.40" x2="171.00" y2="796.00" stroke="#111111" stroke-width="0.8"/>
<line x1="130.60" y1="682.40" x2="171.00" y2="799.50" stroke="#111111" stroke-width="0.8"/>
<rect x="168.85" y="683.25" width="4.3" height="4.3" fill="#6a6ac4" fill-opacity="0.85"/>
<rect x="168.85" y="696.05" width="4.3" height="4.3" fill="#6a6ac4" fill-opacity="0.85"/>
<rect x="168.85" y="707.65" width="4.3" height="4.3" fill="#6a6ac4" fill-opacity="0.85"/>
<rect x="168.85" y="716.15" width="4.3" height="4.3" fill="#6a6ac4" fill-opacity="0.85"/>
<rect x="168.85" y="763.45" width="4.3" height="4.3" fill="#4a4ab4" fill-opacity="0.85"/>
<rect x="168.85" y="775.15" width="4.3" height="4.3" fill="#3a3aa8" fill-opacity="0.8"/>
<rect x="168.85" y="777.35" width="4.3" height="4.3" fill="#3a3aa8" fill-opacity="0.6"/>
<rect x="168.85" y="779.55" width="4.3" height="4.3" fill="#3a3aa8" fill-opacity="0.8"/>
<rect x="168.85" y="781.75" width="4.3" height="4.3" fill="#3a3aa8" fill-opacity="0.6"/>
<rect x="168.85" y="783.95" width="4.3" height="4.3" fill="#3a3aa8" fill-opacity="0.8"/>
<rect x="168.85" y="786.15" width="4.3" height="4.3" fill="#3a3aa8" fill-opacity="0.6"/>
<rect x="168.85" y="788.35" width="4.3" height="4.3" fill="#3a3aa8" fill-opacity="0.8"/>
<rect x="168.85" y="790.55" width="4.3" height="4.3" fill="#3a3aa8" fill-opacity="0.6"/>
<rect x="168.85" y="792.75" width="4.3" height="4.3" fill="#3a3aa8" fill-opacity="0.8"/>
<rect x="168.85" y="794.95" width="4.3" height="4.3" fill="#3a3aa8" fill-opacity="0.6"/>
<rect x="168.85" y="797.15" width="4.3" height="4.3" fill="#3a3aa8" fill-opacity="0.8"/>
<rect x="168.85" y="799.35" width="4.3" height="4.3" fill="#3a3aa8" fill-opacity="0.6"/>
<rect x="168.85" y="801.55" width="4.3" height="4.3" fill="#3a3aa8" fill-opacity="0.8"/>
<rect x="168.85" y="803.75" width="4.3" height="4.3" fill="#3a3aa8" fill-opacity="0.6"/>
<rect x="168.85" y="805.95" width="4.3" height="4.3" fill="#3a3aa8" fill-opacity="0.8"/>
<path d="M90.30,679.20L92.80,683.70L87.80,683.70Z" fill="#3a9e50" fill-opacity="0.85"/>
<path d="M90.30,732.70L92.80,737.20L87.80,737.20Z" fill="#5aae6a" fill-opacity="0.6"/>
<circle cx="130.60" cy="682.40" r="2.6" fill="#e8202a" fill-opacity="1.0"/>
<circle cx="130.60" cy="721.80" r="2.5" fill="#ee5a3e" fill-opacity="0.85"/>
<circle cx="130.60" cy="752.40" r="2.5" fill="#f07a5a" fill-opacity="0.7"/>
<line x1="256.50" y1="683.00" x2="337.30" y2="683.00" stroke="#111111" stroke-width="1.7"/>
<line x1="256.50" y1="683.30" x2="296.70" y2="704.10" stroke="#111111" stroke-width="0.75"/>
<line x1="256.50" y1="683.30" x2="296.70" y2="721.30" stroke="#111111" stroke-width="0.75"/>
<line x1="256.50" y1="768.80" x2="296.70" y2="760.20" stroke="#111111" stroke-width="0.75"/>
<line x1="256.50" y1="768.80" x2="296.70" y2="775.00" stroke="#111111" stroke-width="0.75"/>
<line x1="256.50" y1="772.70" x2="296.70" y2="775.00" stroke="#111111" stroke-width="0.75"/>
<line x1="256.50" y1="777.40" x2="296.70" y2="799.50" stroke="#111111" stroke-width="0.75"/>
<line x1="256.50" y1="784.70" x2="296.70" y2="682.90" stroke="#111111" stroke-width="0.75"/>
<line x1="256.50" y1="784.70" x2="296.70" y2="760.20" stroke="#111111" stroke-width="0.75"/>
<line x1="256.50" y1="788.30" x2="296.70" y2="691.70" stroke="#111111" stroke-width="0.75"/>
<line x1="256.50" y1="803.40" x2="337.30" y2="683.00" stroke="#111111" stroke-width="0.75"/>
<line x1="256.50" y1="803.40" x2="296.70" y2="799.50" stroke="#111111" stroke-width="0.75"/>
<line x1="296.70" y1="760.20" x2="337.30" y2="744.00" stroke="#111111" stroke-width="0.75"/>
<line x1="296.70" y1="775.00" x2="337.30" y2="770.00" stroke="#111111" stroke-width="0.75"/>
<line x1="296.70" y1="775.00" x2="337.30" y2="728.20" stroke="#111111" stroke-width="0.75"/>
<line x1="296.70" y1="788.10" x2="337.30" y2="700.40" stroke="#111111" stroke-width="0.75"/>
<line x1="296.70" y1="799.50" x2="337.30" y2="790.00" stroke="#111111" stroke-width="0.75"/>
<line x1="296.70" y1="775.00" x2="337.30" y2="782.00" stroke="#111111" stroke-width="0.75"/>
<line x1="337.30" y1="683.00" x2="296.70" y2="691.70" stroke="#111111" stroke-width="0.7"/>
<line x1="337.30" y1="683.00" x2="296.70" y2="695.70" stroke="#111111" stroke-width="0.7"/>
<line x1="337.30" y1="683.00" x2="296.70" y2="704.10" stroke="#111111" stroke-width="0.7"/>
<line x1="337.30" y1="683.00" x2="296.70" y2="711.00" stroke="#111111" stroke-width="0.7"/>
<line x1="337.30" y1="683.00" x2="296.70" y2="713.60" stroke="#111111" stroke-width="0.7"/>
<line x1="337.30" y1="683.00" x2="296.70" y2="721.30" stroke="#111111" stroke-width="0.7"/>
<line x1="296.70" y1="682.90" x2="337.30" y2="700.40" stroke="#111111" stroke-width="0.7"/>
<line x1="296.70" y1="682.90" x2="337.30" y2="718.50" stroke="#111111" stroke-width="0.7"/>
<line x1="296.70" y1="682.90" x2="337.30" y2="728.00" stroke="#111111" stroke-width="0.7"/>
<line x1="296.70" y1="682.90" x2="337.30" y2="728.60" stroke="#111111" stroke-width="0.7"/>
<line x1="296.70" y1="682.90" x2="337.30" y2="744.00" stroke="#111111" stroke-width="0.7"/>
<line x1="296.70" y1="682.90" x2="337.30" y2="753.20" stroke="#111111" stroke-width="0.7"/>
<line x1="296.70" y1="682.90" x2="337.30" y2="760.00" stroke="#111111" stroke-width="0.7"/>
<line x1="296.70" y1="682.90" x2="337.30" y2="767.00" stroke="#111111" stroke-width="0.7"/>
<line x1="296.70" y1="682.90" x2="337.30" y2="773.00" stroke="#111111" stroke-width="0.7"/>
<line x1="296.70" y1="682.90" x2="337.30" y2="778.00" stroke="#111111" stroke-width="0.7"/>
<line x1="296.70" y1="682.90" x2="337.30" y2="783.00" stroke="#111111" stroke-width="0.7"/>
<line x1="296.70" y1="682.90" x2="337.30" y2="787.00" stroke="#111111" stroke-width="0.7"/>
<line x1="296.70" y1="682.90" x2="337.30" y2="791.00" stroke="#111111" stroke-width="0.7"/>
<line x1="296.70" y1="682.90" x2="337.30" y2="795.00" stroke="#111111" stroke-width="0.7"/>
<line x1="296.70" y1="682.90" x2="337.30" y2="799.00" stroke="#111111" stroke-width="0.7"/>
<line x1="296.70" y1="682.90" x2="337.30" y2="803.00" stroke="#111111" stroke-width="0.7"/>
<line x1="296.70" y1="682.90" x2="337.30" y2="806.00" stroke="#111111" stroke-width="0.7"/>
<line x1="296.70" y1="704.10" x2="337.30" y2="777.00" stroke="#111111" stroke-width="0.7"/>
<line x1="296.70" y1="704.10" x2="337.30" y2="784.00" stroke="#111111" stroke-width="0.7"/>
<line x1="296.70" y1="704.10" x2="337.30" y2="790.00" stroke="#111111" stroke-width="0.7"/>
<line x1="296.70" y1="704.10" x2="337.30" y2="796.00" stroke="#111111" stroke-width="0.7"/>
<line x1="296.70" y1="704.10" x2="337.30" y2="801.00" stroke="#111111" stroke-width="0.7"/>
<line x1="296.70" y1="704.10" x2="337.30" y2="805.00" stroke="#111111" stroke-width="0.7"/>
<line x1="296.70" y1="704.10" x2="337.30" y2="808.50" stroke="#111111" stroke-width="0.7"/>
<line x1="296.70" y1="711.00" x2="337.30" y2="788.00" stroke="#111111" stroke-width="0.65"/>
<line x1="296.70" y1="713.60" x2="337.30" y2="798.00" stroke="#111111" stroke-width="0.65"/>
<line x1="296.70" y1="721.30" x2="337.30" y2="806.00" stroke="#111111" stroke-width="0.65"/>
<line x1="296.70" y1="695.70" x2="337.30" y2="781.00" stroke="#111111" stroke-width="0.65"/>
<rect x="335.15" y="681.75" width="4.3" height="4.3" fill="#3434a8" fill-opacity="0.9"/>
<rect x="335.15" y="698.05" width="4.3" height="4.3" fill="#3434a8" fill-opacity="0.55"/>
<rect x="335.15" y="700.45" width="4.3" height="4.3" fill="#3434a8" fill-opacity="0.55"/>
<rect x="335.15" y="702.85" width="4.3" height="4.3" fill="#3434a8" fill-opacity="0.55"/>
<rect x="335.15" y="716.35" width="4.3" height="4.3" fill="#3434a8" fill-opacity="0.55"/>
<rect x="335.15" y="726.05" width="4.3" height="4.3" fill="#3434a8" fill-opacity="0.85"/>
<rect x="335.15" y="741.85" width="4.3" height="4.3" fill="#3434a8" fill-opacity="0.85"/>
<rect x="335.15" y="751.05" width="4.3" height="4.3" fill="#3434a8" fill-opacity="0.55"/>
<rect x="335.15" y="756.35" width="4.3" height="4.3" fill="#3434a8" fill-opacity="0.75"/>
<rect x="335.15" y="758.85" width="4.3" height="4.3" fill="#3434a8" fill-opacity="0.8"/>
<rect x="335.15" y="760.85" width="4.3" height="4.3" fill="#3434a8" fill-opacity="0.55"/>
<rect x="335.15" y="762.85" width="4.3" height="4.3" fill="#3434a8" fill-opacity="0.55"/>
<rect x="335.15" y="764.85" width="4.3" height="4.3" fill="#3434a8" fill-opacity="0.8"/>
<rect x="335.15" y="766.85" width="4.3" height="4.3" fill="#3434a8" fill-opacity="0.55"/>
<rect x="335.15" y="768.85" width="4.3" height="4.3" fill="#3434a8" fill-opacity="0.55"/>
<rect x="335.15" y="770.85" width="4.3" height="4.3" fill="#3434a8" fill-opacity="0.8"/>
<rect x="335.15" y="772.85" width="4.3" height="4.3" fill="#3434a8" fill-opacity="0.55"/>
<rect x="335.15" y="774.85" width="4.3" height="4.3" fill="#3434a8" fill-opacity="0.55"/>
<rect x="335.15" y="776.85" width="4.3" height="4.3" fill="#3434a8" fill-opacity="0.8"/>
<rect x="335.15" y="778.85" width="4.3" height="4.3" fill="#3434a8" fill-opacity="0.55"/>
<rect x="335.15" y="780.85" width="4.3" height="4.3" fill="#3434a8" fill-opacity="0.55"/>
<rect x="335.15" y="782.85" width="4.3" height="4.3" fill="#3434a8" fill-opacity="0.8"/>
<rect x="335.15" y="784.85" width="4.3" height="4.3" fill="#3434a8" fill-opacity="0.55"/>
<rect x="335.15" y="786.85" width="4.3" height="4.3" fill="#3434a8" fill-opacity="0.55"/>
<rect x="335.15" y="788.85" width="4.3" height="4.3" fill="#3434a8" fill-opacity="0.8"/>
<rect x="335.15" y="790.85" width="4.3" height="4.3" fill="#3434a8" fill-opacity="0.55"/>
<rect x="335.15" y="792.85" width="4.3" height="4.3" fill="#3434a8" fill-opacity="0.55"/>
<rect x="335.15" y="794.85" width="4.3" height="4.3" fill="#3434a8" fill-opacity="0.8"/>
<rect x="335.15" y="796.85" width="4.3" height="4.3" fill="#3434a8" fill-opacity="0.55"/>
<rect x="335.15" y="798.85" width="4.3" height="4.3" fill="#3434a8" fill-opacity="0.55"/>
<rect x="335.15" y="800.85" width="4.3" height="4.3" fill="#3434a8" fill-opacity="0.8"/>
<rect x="335.15" y="802.85" width="4.3" height="4.3" fill="#3434a8" fill-opacity="0.55"/>
<rect x="335.15" y="804.85" width="4.3" height="4.3" fill="#3434a8" fill-opacity="0.55"/>
<rect x="335.15" y="806.85" width="4.3" height="4.3" fill="#3434a8" fill-opacity="0.8"/>
<path d="M256.50,680.60L259.00,685.10L254.00,685.10Z" fill="#2f9a48" fill-opacity="0.85"/>
<path d="M256.50,733.50L259.00,738.00L254.00,738.00Z" fill="#2f9a48" fill-opacity="0.55"/>
<path d="M256.50,738.60L259.00,743.10L254.00,743.10Z" fill="#2f9a48" fill-opacity="0.55"/>
<path d="M256.50,766.10L259.00,770.60L254.00,770.60Z" fill="#2f9a48" fill-opacity="0.55"/>
<path d="M256.50,770.00L259.00,774.50L254.00,774.50Z" fill="#2f9a48" fill-opacity="0.55"/>
<path d="M256.50,774.70L259.00,779.20L254.00,779.20Z" fill="#2f9a48" fill-opacity="0.55"/>
<path d="M256.50,782.00L259.00,786.50L254.00,786.50Z" fill="#2f9a48" fill-opacity="0.55"/>
<path d="M256.50,785.60L259.00,790.10L254.00,790.10Z" fill="#2f9a48" fill-opacity="0.55"/>
<path d="M256.50,800.70L259.00,805.20L254.00,805.20Z" fill="#2f9a48" fill-opacity="0.85"/>
<circle cx="296.70" cy="682.90" r="2.5" fill="#e8202a" fill-opacity="1.0"/>
<circle cx="296.70" cy="691.70" r="2.5" fill="#ef6a4b" fill-opacity="0.7"/>
<circle cx="296.70" cy="695.70" r="2.5" fill="#f07a5a" fill-opacity="0.6"/>
<circle cx="296.70" cy="704.10" r="2.5" fill="#e8202a" fill-opacity="0.95"/>
<circle cx="296.70" cy="711.00" r="2.5" fill="#ef6a4b" fill-opacity="0.7"/>
<circle cx="296.70" cy="713.60" r="2.5" fill="#ef6a4b" fill-opacity="0.6"/>
<circle cx="296.70" cy="721.30" r="2.5" fill="#f07a5a" fill-opacity="0.6"/>
<circle cx="296.70" cy="760.20" r="2.5" fill="#f07a5a" fill-opacity="0.75"/>
<circle cx="296.70" cy="775.00" r="2.5" fill="#e83a2a" fill-opacity="0.9"/>
<circle cx="296.70" cy="788.10" r="2.5" fill="#f07a5a" fill-opacity="0.75"/>
<circle cx="296.70" cy="799.50" r="2.5" fill="#f07a5a" fill-opacity="0.75"/>
</svg></body></html>
